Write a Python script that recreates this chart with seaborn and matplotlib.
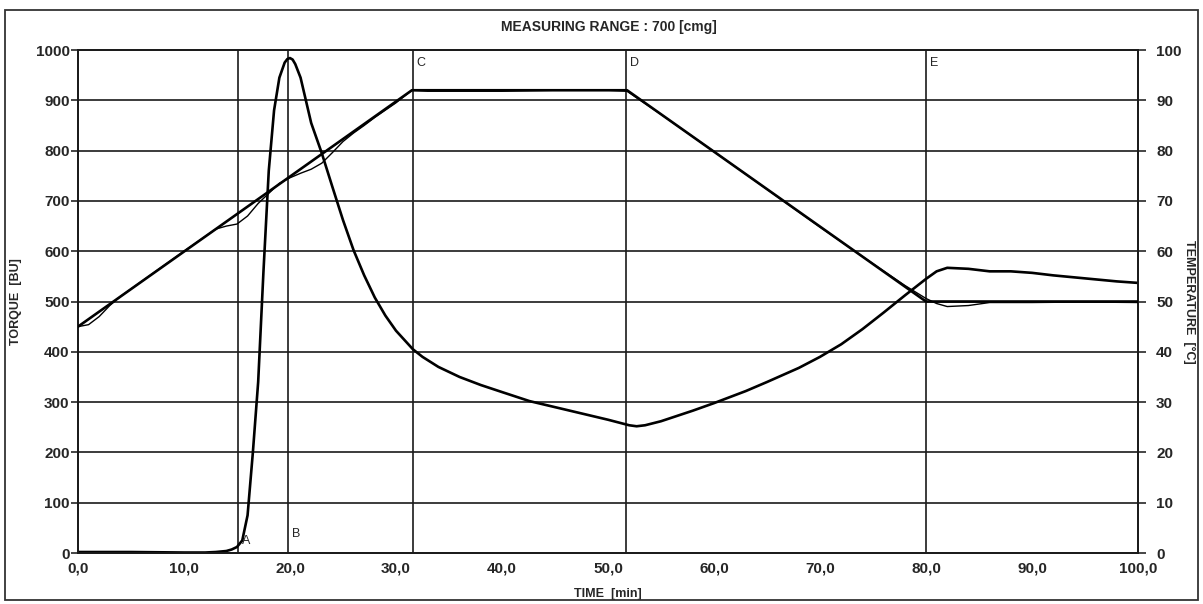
import matplotlib
matplotlib.use("Agg")
import matplotlib.pyplot as plt
import seaborn as sns
from matplotlib.patches import Rectangle

# ---- data ----
time_torque = [0, 5, 10, 12, 13, 14, 14.5, 15, 15.5, 16, 16.5, 17, 17.5, 18, 18.5,
               19, 19.5, 19.75, 20, 20.25, 20.5, 21, 21.5, 22, 23, 24, 25, 26, 27, 28, 29, 30,
               31.6, 32.5, 34, 36, 38, 40, 42.6, 45, 48, 50, 52, 52.7, 53.5, 55, 58, 60, 63, 65,
               68, 70, 72, 74, 76, 78, 80, 81, 82, 84, 86, 88, 90, 92, 94, 96, 98, 100]
torque = [2, 2, 1, 1, 2, 4, 7, 12, 25, 75, 200, 340, 560, 760, 880,
          945, 975, 982, 984, 981, 972, 945, 900, 855, 795, 728, 662, 602, 552, 508, 472, 442,
          405, 390, 370, 350, 334, 320, 302, 290, 275, 265, 254, 252, 254, 262, 283, 298, 322, 340,
          368, 390, 415, 445, 478, 512, 545, 560, 567, 565, 560, 560, 557, 552, 548, 544, 540, 537]

# programmed temperature profile
time_temp_set = [0, 31.5, 51.8, 80.0, 100]
temp_set = [45, 92, 92, 50, 50]

# measured temperature
time_temp_act = [0, 1, 2, 3, 4, 6, 10, 13, 14, 15, 16, 17, 18, 19, 20, 21, 22, 23,
                 24, 25, 26, 27, 28, 30, 31.5, 33, 40, 45, 50, 51.8, 55, 60, 65, 70,
                 75, 78, 80, 81, 82, 84, 86, 90, 95, 100]
temp_act = [45, 45.4, 47, 49.2, 51, 54, 60, 64.4, 65, 65.4, 67, 69.5, 71.5, 73.5,
            74.6, 75.5, 76.3, 77.5, 79.6, 81.8, 83.5, 85, 86.6, 89.5, 92, 91.8, 91.8,
            92, 92, 91.8, 87.2, 79.8, 72.3, 64.8, 57.5, 53.2, 50.6, 49.6, 49, 49.2,
            49.8, 49.8, 49.9, 49.8]

marker_times = [15.1, 19.8, 31.6, 51.7, 80.0]
marker_names = ["A", "B", "C", "D", "E"]

x_ticks = [0, 10, 20, 30, 40, 50, 60, 70, 80, 90, 100]
torque_ticks = [0, 100, 200, 300, 400, 500, 600, 700, 800, 900, 1000]
temp_ticks = [0, 10, 20, 30, 40, 50, 60, 70, 80, 90, 100]

sns.set_style("white")
plt.rcParams['font.family'] = ['Liberation Sans Narrow', 'Liberation Sans', 'DejaVu Sans']
plt.rcParams['font.weight'] = 'bold'

fig = plt.figure(figsize=(12.03, 6.04), dpi=100)
ax = fig.add_axes([0.0648, 0.0844, 0.8812, 0.8328])
ax2 = ax.twinx()

# grid / markers
for v in torque_ticks[1:-1]:
    ax.axhline(v, color="#1a1a1a", lw=1.2, zorder=1)
for t, name in zip(marker_times, marker_names):
    ax.axvline(t, color="#1a1a1a", lw=1.2, zorder=1)
    if name in ("A", "B"):
        yy = 12 if name == "A" else 25
        ax.text(t + 0.35, yy, name, fontsize=9, fontweight='normal', va='bottom', ha='left')
    else:
        ax.text(t + 0.35, 975, name, fontsize=9, fontweight='normal', va='center', ha='left')

sns.lineplot(x=time_torque, y=torque, ax=ax, color="black", lw=1.9,
             estimator=None, sort=False, zorder=3)
sns.lineplot(x=time_temp_set, y=temp_set, ax=ax2, color="black", lw=1.9,
             estimator=None, sort=False, zorder=3)
sns.lineplot(x=time_temp_act, y=temp_act, ax=ax2, color="black", lw=1.0,
             estimator=None, sort=False, zorder=3)

ax.set_xlim(0, 100)
ax.set_ylim(0, 1000)
ax2.set_ylim(0, 100)

ax.set_xticks(x_ticks)
ax.set_xticklabels([f"{t:.1f}".replace(".", ",") for t in x_ticks])
ax.set_yticks(torque_ticks)
ax.set_yticklabels([str(v) for v in torque_ticks])
ax2.set_yticks(temp_ticks)
ax2.set_yticklabels([str(v) for v in temp_ticks])

for a in (ax, ax2):
    for s in a.spines.values():
        s.set_color("#1a1a1a")
        s.set_linewidth(1.3)
ax.tick_params(axis='x', direction='out', length=4, width=1.2, pad=2, labelsize=11)
ax.tick_params(axis='y', direction='out', length=5, width=1.2, pad=1, labelsize=11)
ax2.tick_params(axis='y', direction='out', length=6, width=1.2, pad=7, labelsize=11)

ax.set_xlabel("TIME  [min]", fontsize=9, fontweight='bold')
ax.set_ylabel("TORQUE  [BU]", fontsize=9, fontweight='bold')
ax2.set_ylabel("TEMPERATURE  [°C]", fontsize=9, fontweight='bold', rotation=270, va='center')
ax.xaxis.set_label_coords(0.5, -0.07)
ax.yaxis.set_label_coords(-0.053, 0.5)
ax2.yaxis.set_label_coords(1.048, 0.5)

fig.text(0.506, 0.955, "MEASURING RANGE : 700 [cmg]", ha='center', va='center',
         fontsize=10, fontweight='bold')

fig.patches.append(Rectangle((0.004, 0.006), 0.992, 0.978, transform=fig.transFigure,
                             fill=False, edgecolor="#333333", lw=1.3))

fig.savefig("out.png", dpi=100)
